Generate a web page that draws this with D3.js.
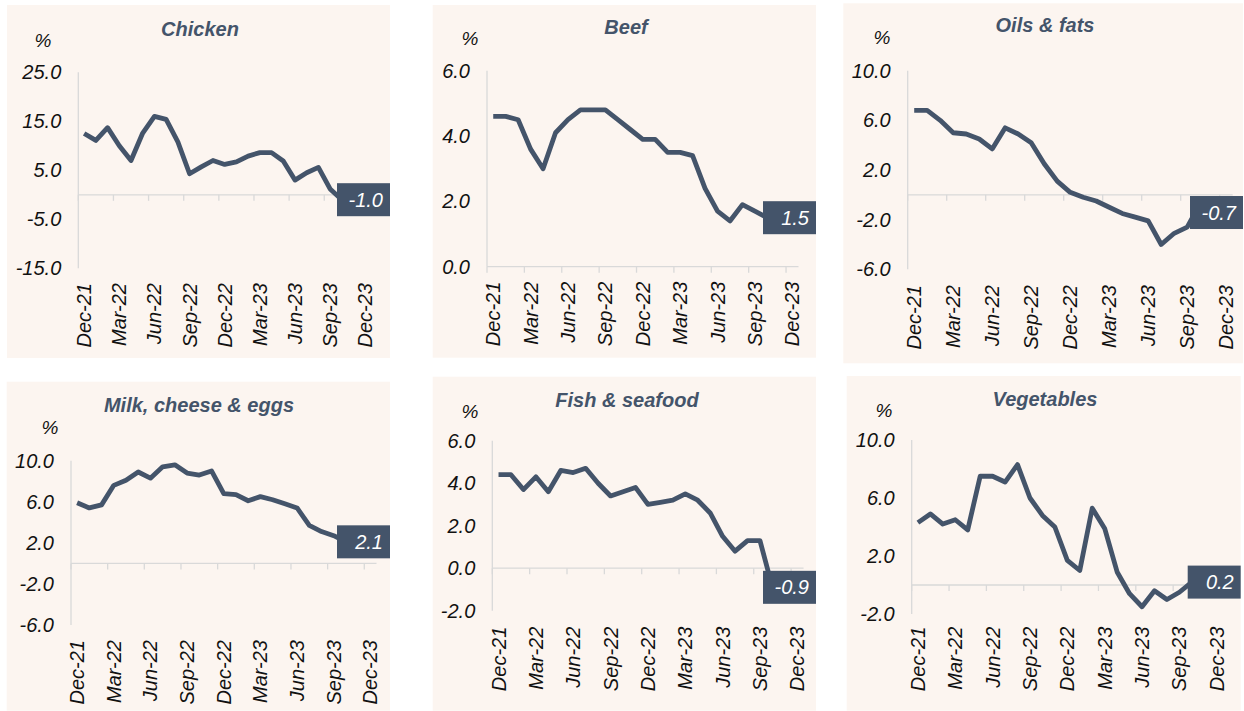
<!DOCTYPE html>
<meta charset="utf-8">
<html>
<head>
<style>
  body { margin: 0; background: #fff; }
  text { font-family: "Liberation Sans", Arial, sans-serif; }
  text.title { font-size: 20px; font-weight: bold; font-style: italic; fill: #44546a; text-anchor: middle; }
  text.tick { font-size: 20px; font-style: italic; fill: #111; }
  text.pct { font-size: 19px; font-style: italic; fill: #111; text-anchor: middle; }
  line.axis { stroke: #d9d9d9; stroke-width: 1.3px; }
  path.series { stroke: #44546a; stroke-width: 4.8px; fill: none; stroke-linejoin: round; }
  text.last { font-size: 20px; font-style: italic; fill: #fff; text-anchor: end; }
</style>
<script src="https://cdn.jsdelivr.net/npm/d3@7"></script>
</head>
<body>
<svg id="chart" width="1244" height="711"></svg>
<script>
// Categories: months Dec-21 .. Dec-23 (series run to Oct-23)
var months = ["Dec-21","Jan-22","Feb-22","Mar-22","Apr-22","May-22","Jun-22","Jul-22","Aug-22",
  "Sep-22","Oct-22","Nov-22","Dec-22","Jan-23","Feb-23","Mar-23","Apr-23","May-23","Jun-23",
  "Jul-23","Aug-23","Sep-23","Oct-23","Nov-23","Dec-23"];
var tickMonths = ["Dec-21","Mar-22","Jun-22","Sep-22","Dec-22","Mar-23","Jun-23","Sep-23","Dec-23"];

var chicken = [12.5, 11.1, 13.7, 10.0, 7.0, 12.6, 16.0, 15.4, 10.8, 4.3, 5.7, 7.0, 6.2, 6.7, 7.9, 8.6, 8.6, 6.9, 3.0, 4.5, 5.6, 1.2, -1.0];
var beef = [4.6, 4.6, 4.5, 3.6, 3.0, 4.1, 4.5, 4.8, 4.8, 4.8, 4.5, 4.2, 3.9, 3.9, 3.5, 3.5, 3.4, 2.4, 1.7, 1.4, 1.9, 1.7, 1.5];
var oils = [6.8, 6.8, 6.0, 5.0, 4.9, 4.5, 3.7, 5.4, 4.9, 4.2, 2.5, 1.1, 0.2, -0.2, -0.5, -1.0, -1.5, -1.8, -2.1, -4.0, -3.1, -2.6, -0.7];
var milk = [5.9, 5.4, 5.7, 7.6, 8.1, 8.9, 8.3, 9.4, 9.6, 8.8, 8.6, 9.0, 6.8, 6.7, 6.1, 6.5, 6.2, 5.8, 5.4, 3.7, 3.1, 2.7, 2.1];
var fish = [4.4, 4.4, 3.7, 4.3, 3.6, 4.6, 4.5, 4.7, 4.0, 3.4, 3.6, 3.8, 3.0, 3.1, 3.2, 3.5, 3.2, 2.6, 1.5, 0.8, 1.3, 1.3, -0.9];
var veg = [4.3, 4.9, 4.2, 4.5, 3.8, 7.5, 7.5, 7.1, 8.3, 6.0, 4.8, 4.0, 1.7, 1.0, 5.3, 3.9, 0.9, -0.6, -1.5, -0.4, -1.0, -0.5, 0.2];

var titles = ["Chicken", "Beef", "Oils & fats", "Milk, cheese & eggs", "Fish & seafood", "Vegetables"];
var seriesList = [chicken, beef, oils, milk, fish, veg];
var yTicks = [[25, 15, 5, -5, -15], [6, 4, 2, 0], [10, 6, 2, -2, -6], [10, 6, 2, -2, -6], [6, 4, 2, 0, -2], [10, 6, 2, -2]];

// Layout of each panel (pixels)
var panels = [
  { bg: [7, 5, 390, 358], ax: 78.3, top: 72.3, bottom: 268.3, w: 292.8, title: [200, 29], pct: [43, 40], labTop: 283, dy: 0 },
  { bg: [432.7, 5, 816, 357.7], ax: 487, top: 70.7, bottom: 266.7, w: 311.5, title: [626, 27], pct: [470, 38], labTop: 281.7, dy: 0 },
  { bg: [843.3, 3.3, 1243, 363.3], ax: 907.7, top: 70.7, bottom: 269.3, w: 325, title: [1045, 25], pct: [882, 37], labTop: 285, dy: 9 },
  { bg: [6.7, 381.7, 390, 710.7], ax: 71, top: 460.7, bottom: 625, w: 305.5, title: [199, 405], pct: [50, 427], labTop: 640, dy: 0 },
  { bg: [432.7, 376.7, 816, 710.7], ax: 492.3, top: 440.7, bottom: 610.7, w: 311.25, title: [627, 400], pct: [470, 411], labTop: 626.7, dy: 0 },
  { bg: [846.7, 376, 1240.7, 710.7], ax: 911.7, top: 440, bottom: 614, w: 311.25, title: [1045, 399], pct: [884, 410], labTop: 626.7, dy: 0 }
];

var svg = d3.select("#chart");

panels.forEach(function(p, k) {
  var data = seriesList[k];
  var ticks = yTicks[k];
  var g = svg.append("g");

  g.append("rect")
    .attr("x", p.bg[0]).attr("y", p.bg[1])
    .attr("width", p.bg[2] - p.bg[0]).attr("height", p.bg[3] - p.bg[1])
    .style("fill", "#fcf5f0");

  var x = d3.scaleBand().domain(months).range([p.ax, p.ax + p.w]);
  var y = d3.scaleLinear().domain([d3.min(ticks), d3.max(ticks)]).range([p.bottom, p.top]);
  var half = x.bandwidth() / 2;

  // title and unit
  g.append("text").attr("class", "title")
    .attr("x", p.title[0]).attr("y", p.title[1]).attr("dy", "0.35em")
    .text(titles[k]);
  g.append("text").attr("class", "pct")
    .attr("x", p.pct[0]).attr("y", p.pct[1]).attr("dy", "0.35em")
    .text("%");

  // axis lines
  g.append("line").attr("class", "axis")
    .attr("x1", p.ax).attr("x2", p.ax).attr("y1", p.top).attr("y2", p.bottom);
  g.append("line").attr("class", "axis")
    .attr("x1", p.ax).attr("x2", p.ax + p.w).attr("y1", y(0)).attr("y2", y(0));
  g.selectAll(".xtick").data(tickMonths).enter().append("line")
    .attr("class", "axis")
    .attr("x1", function(d) { return x(d); }).attr("x2", function(d) { return x(d); })
    .attr("y1", y(0)).attr("y2", y(0) + 6);

  // y labels
  g.selectAll(".ylab").data(ticks).enter().append("text")
    .attr("class", "tick")
    .attr("x", p.ax - 17).attr("y", function(d) { return y(d); })
    .attr("dy", "0.35em").style("text-anchor", "end")
    .text(function(d) { return d.toFixed(1); });

  // x labels, rotated
  g.selectAll(".xlab").data(tickMonths).enter().append("text")
    .attr("class", "tick")
    .attr("transform", function(d) { return "translate(" + (x(d) + half) + "," + p.labTop + ") rotate(-90)"; })
    .attr("dy", "0.35em").style("text-anchor", "end")
    .text(function(d) { return d; });

  // series line
  var line = d3.line()
    .x(function(d, i) { return x(months[i]) + half; })
    .y(function(d) { return y(d); });
  g.append("path").attr("class", "series").attr("d", line(data));

  // last value box
  var n = data.length - 1;
  var lx = x(months[n]) + half, ly = y(data[n]) + p.dy;
  var bw = 53, bh = 33;
  var bx = Math.min(lx - 4, p.bg[2] - bw);
  g.append("rect")
    .attr("x", bx).attr("y", ly - bh / 2)
    .attr("width", bw).attr("height", bh)
    .style("fill", "#44546a");
  g.append("text").attr("class", "last")
    .attr("x", bx + bw - 7).attr("y", ly).attr("dy", "0.35em")
    .text(data[n].toFixed(1));
});
</script>
</body>
</html>
